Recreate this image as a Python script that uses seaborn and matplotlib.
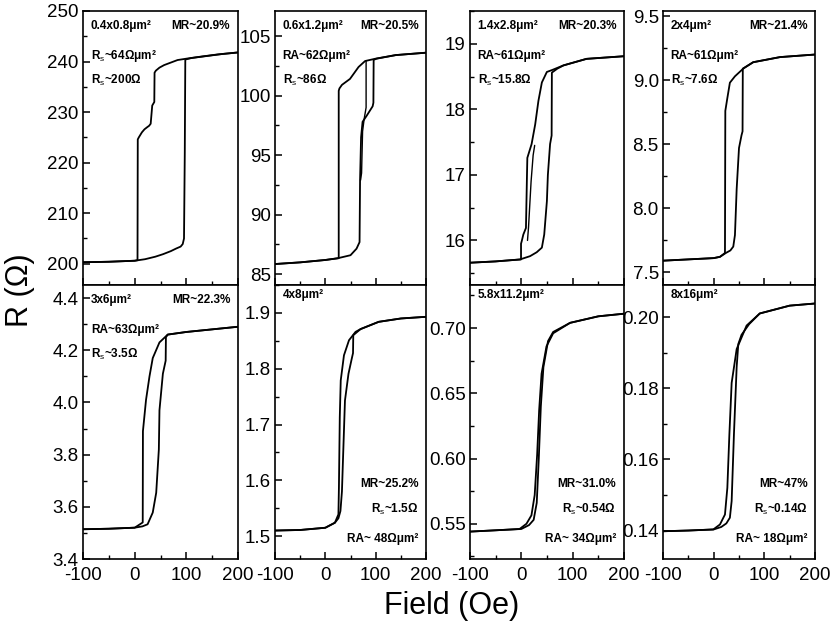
import matplotlib
matplotlib.use("Agg")
import matplotlib.pyplot as plt
import seaborn as sns
import pandas as pd
from matplotlib.ticker import MultipleLocator, FormatStrFormatter

# ---- measured loops: field (Oe) vs resistance (ohm), increasing / decreasing sweeps ----
p1_up_h = [-100, -50, 0, 20, 40, 55, 70, 80, 89, 93, 95.5, 97, 98, 110, 140, 170, 200]
p1_up_r = [200.3, 200.4, 200.6, 200.9, 201.4, 201.9, 202.5, 203.0, 203.4, 203.9, 205.0, 222.0, 240.4, 240.7, 241.1, 241.5, 241.8]
p1_dn_h = [200, 160, 130, 102, 83, 70, 57, 48, 41, 38.5, 38, 34, 31, 28, 24, 19, 14, 8, 6, 5.5, 0, -50, -100]
p1_dn_r = [241.8, 241.4, 241.0, 240.6, 240.3, 239.8, 239.3, 238.8, 238.2, 237.8, 232.0, 231.3, 227.7, 227.3, 227.0, 226.6, 226.0, 225.0, 224.6, 200.7, 200.6, 200.4, 200.3]

p2_up_h = [-100, -50, 0, 25, 50, 62, 68, 69, 71, 74, 82, 88, 94, 95.5, 96, 102, 140, 200]
p2_up_r = [85.86, 86.0, 86.2, 86.35, 86.6, 87.15, 87.7, 92.9, 96.5, 97.8, 98.3, 98.7, 99.1, 99.4, 103.0, 103.1, 103.4, 103.6]
p2_dn_h = [200, 140, 100, 79, 66, 49, 33, 28, 26.6, 26.6, 0, -50, -100]
p2_dn_r = [103.6, 103.4, 103.1, 102.9, 102.4, 101.4, 100.9, 100.6, 100.4, 86.35, 86.2, 86.0, 85.86]
p2_mn_h = [81, 81, 77, 74, 72, 70]
p2_mn_r = [102.9, 99.0, 98.0, 97.0, 93.5, 92.9]

p3_up_h = [-100, -50, -2.5, 17, 30, 40, 44.6, 49.8, 51.7, 56, 59, 59.5, 70, 82, 127, 200]
p3_up_r = [15.66, 15.68, 15.71, 15.76, 15.82, 15.89, 16.09, 16.6, 17.0, 17.47, 17.6, 18.56, 18.62, 18.67, 18.77, 18.81]
p3_dn_h = [200, 127, 82, 60, 49.7, 40, 33.3, 27, 20, 11.7, 11, 9, 3.9, 0.8, -0.6, -0.6, -50, -100]
p3_dn_r = [18.81, 18.77, 18.67, 18.6, 18.57, 18.41, 18.13, 17.77, 17.47, 17.26, 17.0, 16.19, 16.09, 15.99, 15.95, 15.71, 15.68, 15.66]
p3_mn_h = [12, 14, 19, 23, 26]
p3_mn_r = [16.0, 16.2, 16.9, 17.3, 17.45]

p4_up_h = [-100, -50, 0, 12.4, 24, 33, 38.7, 42, 45.4, 50, 55, 57, 57.5, 78, 131, 200]
p4_up_r = [7.59, 7.60, 7.61, 7.62, 7.65, 7.67, 7.70, 7.79, 8.15, 8.47, 8.57, 8.6, 9.09, 9.14, 9.18, 9.20]
p4_dn_h = [200, 131, 78, 58.4, 42, 32, 27, 23, 22.3, 12.4, 0, -50, -100]
p4_dn_r = [9.20, 9.18, 9.14, 9.09, 9.03, 8.98, 8.86, 8.76, 7.65, 7.62, 7.61, 7.60, 7.59]

p5_up_h = [-100, -50, 0, 15, 25, 35, 41.7, 46.8, 48, 54.6, 60, 60.5, 64, 100, 150, 200]
p5_up_r = [3.514, 3.516, 3.52, 3.525, 3.533, 3.578, 3.654, 3.82, 3.97, 4.11, 4.16, 4.25, 4.26, 4.27, 4.28, 4.29]
p5_dn_h = [200, 150, 100, 64, 48, 35, 28.7, 22, 16, 15.6, 0, -50, -100]
p5_dn_r = [4.29, 4.28, 4.27, 4.26, 4.23, 4.17, 4.10, 4.01, 3.89, 3.54, 3.52, 3.516, 3.514]

p6_up_h = [-100, -50, 0, 19, 26, 30, 33, 35, 39, 46, 52.5, 55, 55.5, 70, 106, 150, 200]
p6_up_r = [1.510, 1.511, 1.515, 1.524, 1.532, 1.545, 1.58, 1.635, 1.743, 1.791, 1.818, 1.828, 1.86, 1.871, 1.884, 1.890, 1.893]
p6_dn_h = [200, 150, 106, 70, 60, 47, 37, 30.6, 28.7, 27, 26, 19, 0, -50, -100]
p6_dn_r = [1.893, 1.890, 1.884, 1.871, 1.866, 1.851, 1.824, 1.779, 1.713, 1.587, 1.539, 1.524, 1.515, 1.511, 1.510]

p7_up_h = [-100, -50, 0, 15, 24, 30, 34, 38, 43, 52, 62, 95, 150, 200]
p7_up_r = [0.544, 0.545, 0.546, 0.549, 0.553, 0.566, 0.600, 0.640, 0.670, 0.690, 0.697, 0.704, 0.709, 0.711]
p7_dn_h = [200, 150, 95, 62, 49, 39.4, 34.7, 30.8, 26, 19.7, 10, -3.4, -50, -100]
p7_dn_r = [0.711, 0.709, 0.704, 0.696, 0.686, 0.665, 0.637, 0.603, 0.572, 0.5565, 0.550, 0.546, 0.545, 0.544]

p8_up_h = [-100, -50, 0, 15, 25, 32, 35.5, 40, 45.4, 48.6, 55, 70, 91, 150, 200]
p8_up_r = [0.1398, 0.1400, 0.1403, 0.1410, 0.1420, 0.1436, 0.1483, 0.167, 0.186, 0.1924, 0.195, 0.198, 0.201, 0.2032, 0.2038]
p8_dn_h = [200, 150, 91, 65, 45.4, 35.5, 31, 27, 22.3, 12.4, -0.8, -50, -100]
p8_dn_r = [0.2038, 0.2032, 0.201, 0.1976, 0.191, 0.1815, 0.167, 0.152, 0.1445, 0.1417, 0.1403, 0.1400, 0.1398]

# ---- junction sizes and annotations ----
sizes = ["0.4x0.8μm²", "0.6x1.2μm²", "1.4x2.8μm²", "2x4μm²",
         "3x6μm²", "4x8μm²", "5.8x11.2μm²", "8x16μm²"]
mr_labels = ["MR~20.9%", "MR~20.5%", "MR~20.3%", "MR~21.4%",
             "MR~22.3%", "MR~25.2%", "MR~31.0%", "MR~47%"]
ra_labels = ["R$_\\mathrm{s}$~64Ωμm²", "RA~62Ωμm²", "RA~61Ωμm²", "RA~61Ωμm²",
             "RA~63Ωμm²", "RA~ 48Ωμm²", "RA~ 34Ωμm²", "RA~ 18Ωμm²"]
rs_labels = ["R$_\\mathrm{s}$~200Ω", "R$_\\mathrm{s}$~86Ω", "R$_\\mathrm{s}$~15.8Ω", "R$_\\mathrm{s}$~7.6Ω",
             "R$_\\mathrm{s}$~3.5Ω", "R$_\\mathrm{s}$~1.5Ω", "R$_\\mathrm{s}$~0.54Ω", "R$_\\mathrm{s}$~0.14Ω"]

x_ticks = [-100, 0, 100, 200]

sns.set_theme(style="ticks")
plt.rcParams["font.family"] = ["Liberation Sans", "DejaVu Sans"]
plt.rcParams.update({
    "mathtext.fontset": "custom",
    "mathtext.rm": "Liberation Sans",
    "mathtext.it": "Liberation Sans:italic",
    "mathtext.bf": "Liberation Sans:bold",
    "axes.unicode_minus": False,
    "axes.linewidth": 1.2,
    "axes.edgecolor": "black",
    "xtick.direction": "in",
    "ytick.direction": "in",
    "xtick.color": "black",
    "ytick.color": "black",
})

loops = [
    [(p1_up_h, p1_up_r), (p1_dn_h, p1_dn_r)],
    [(p2_up_h, p2_up_r), (p2_dn_h, p2_dn_r), (p2_mn_h, p2_mn_r)],
    [(p3_up_h, p3_up_r), (p3_dn_h, p3_dn_r), (p3_mn_h, p3_mn_r)],
    [(p4_up_h, p4_up_r), (p4_dn_h, p4_dn_r)],
    [(p5_up_h, p5_up_r), (p5_dn_h, p5_dn_r)],
    [(p6_up_h, p6_up_r), (p6_dn_h, p6_dn_r)],
    [(p7_up_h, p7_up_r), (p7_dn_h, p7_dn_r)],
    [(p8_up_h, p8_up_r), (p8_dn_h, p8_dn_r)],
]

# axis ranges, tick spacing and label formats per panel
y_limits = [(195.8, 250), (84.1, 107.1), (15.32, 19.5), (7.40, 9.54),
            (3.4, 4.45), (1.459, 1.95), (0.523, 0.733), (0.132, 0.209)]
y_major = [10, 5, 1, 0.5, 0.2, 0.1, 0.05, 0.02]
y_fmt = ["%d", "%d", "%d", "%.1f", "%.1f", "%.1f", "%.2f", "%.2f"]

W, H = 836, 628
fig = plt.figure(figsize=(W / 100, H / 100), dpi=100)
fig.patch.set_facecolor("white")

col_left = [83, 275, 470, 663]
col_width = [155, 151, 154, 152]
row_top = [11, 285]
row_h = 274

label_font = ["Liberation Sans Narrow", "Liberation Sans", "DejaVu Sans"]
txt_kw = dict(fontsize=8.5, color="black", family=label_font, fontweight="bold")

for i in range(8):
    r, c = divmod(i, 4)
    rect = [col_left[c] / W, 1 - (row_top[r] + row_h) / H, col_width[c] / W, row_h / H]
    ax = fig.add_axes(rect)
    for k, (hh, rr) in enumerate(loops[i]):
        df = pd.DataFrame({"Field": hh, "R": rr})
        sns.lineplot(data=df, x="Field", y="R", ax=ax, sort=False, estimator=None,
                     color="black", linewidth=1.3 if k < 2 else 1.0)
    ax.set_xlim(-100, 200)
    ax.set_ylim(*y_limits[i])
    ax.set_xlabel("")
    ax.set_ylabel("")
    ax.set_xticks(x_ticks)
    ax.xaxis.set_minor_locator(MultipleLocator(50))
    ax.yaxis.set_major_locator(MultipleLocator(y_major[i]))
    ax.yaxis.set_minor_locator(MultipleLocator(y_major[i] / 2))
    ax.yaxis.set_major_formatter(FormatStrFormatter(y_fmt[i]))
    ax.tick_params(which="major", length=5, width=1.1, labelsize=13.5)
    ax.tick_params(axis="y", which="major", pad=3)
    ax.tick_params(axis="x", which="major", pad=6)
    ax.tick_params(which="minor", length=3, width=1.0)
    if r == 0:
        ax.tick_params(axis="x", labelbottom=False)
    for s in ax.spines.values():
        s.set_visible(True)
        s.set_linewidth(1.2)

    tr = ax.transAxes
    if r == 0 or c == 0:
        ax.text(0.05, 0.945, sizes[i], transform=tr, ha="left", va="center", **txt_kw)
        ax.text(0.95, 0.945, mr_labels[i], transform=tr, ha="right", va="center", **txt_kw)
        ax.text(0.05, 0.835, ra_labels[i], transform=tr, ha="left", va="center", **txt_kw)
        ax.text(0.05, 0.745, rs_labels[i], transform=tr, ha="left", va="center", **txt_kw)
    else:
        ax.text(0.05, 0.962, sizes[i], transform=tr, ha="left", va="center", **txt_kw)
        ax.text(0.95, 0.275, mr_labels[i], transform=tr, ha="right", va="center", **txt_kw)
        ax.text(0.95, 0.182, rs_labels[i], transform=tr, ha="right", va="center", **txt_kw)
        ax.text(0.95, 0.072, ra_labels[i], transform=tr, ha="right", va="center", **txt_kw)

fig.text(20 / W, 1 - 290 / H, "R (Ω)", rotation=90, ha="center", va="center",
         fontsize=22, color="black")
fig.text(452 / W, 1 - 606 / H, "Field (Oe)", ha="center", va="center",
         fontsize=22, color="black")

fig.savefig("out.png", dpi=100, facecolor="white")
